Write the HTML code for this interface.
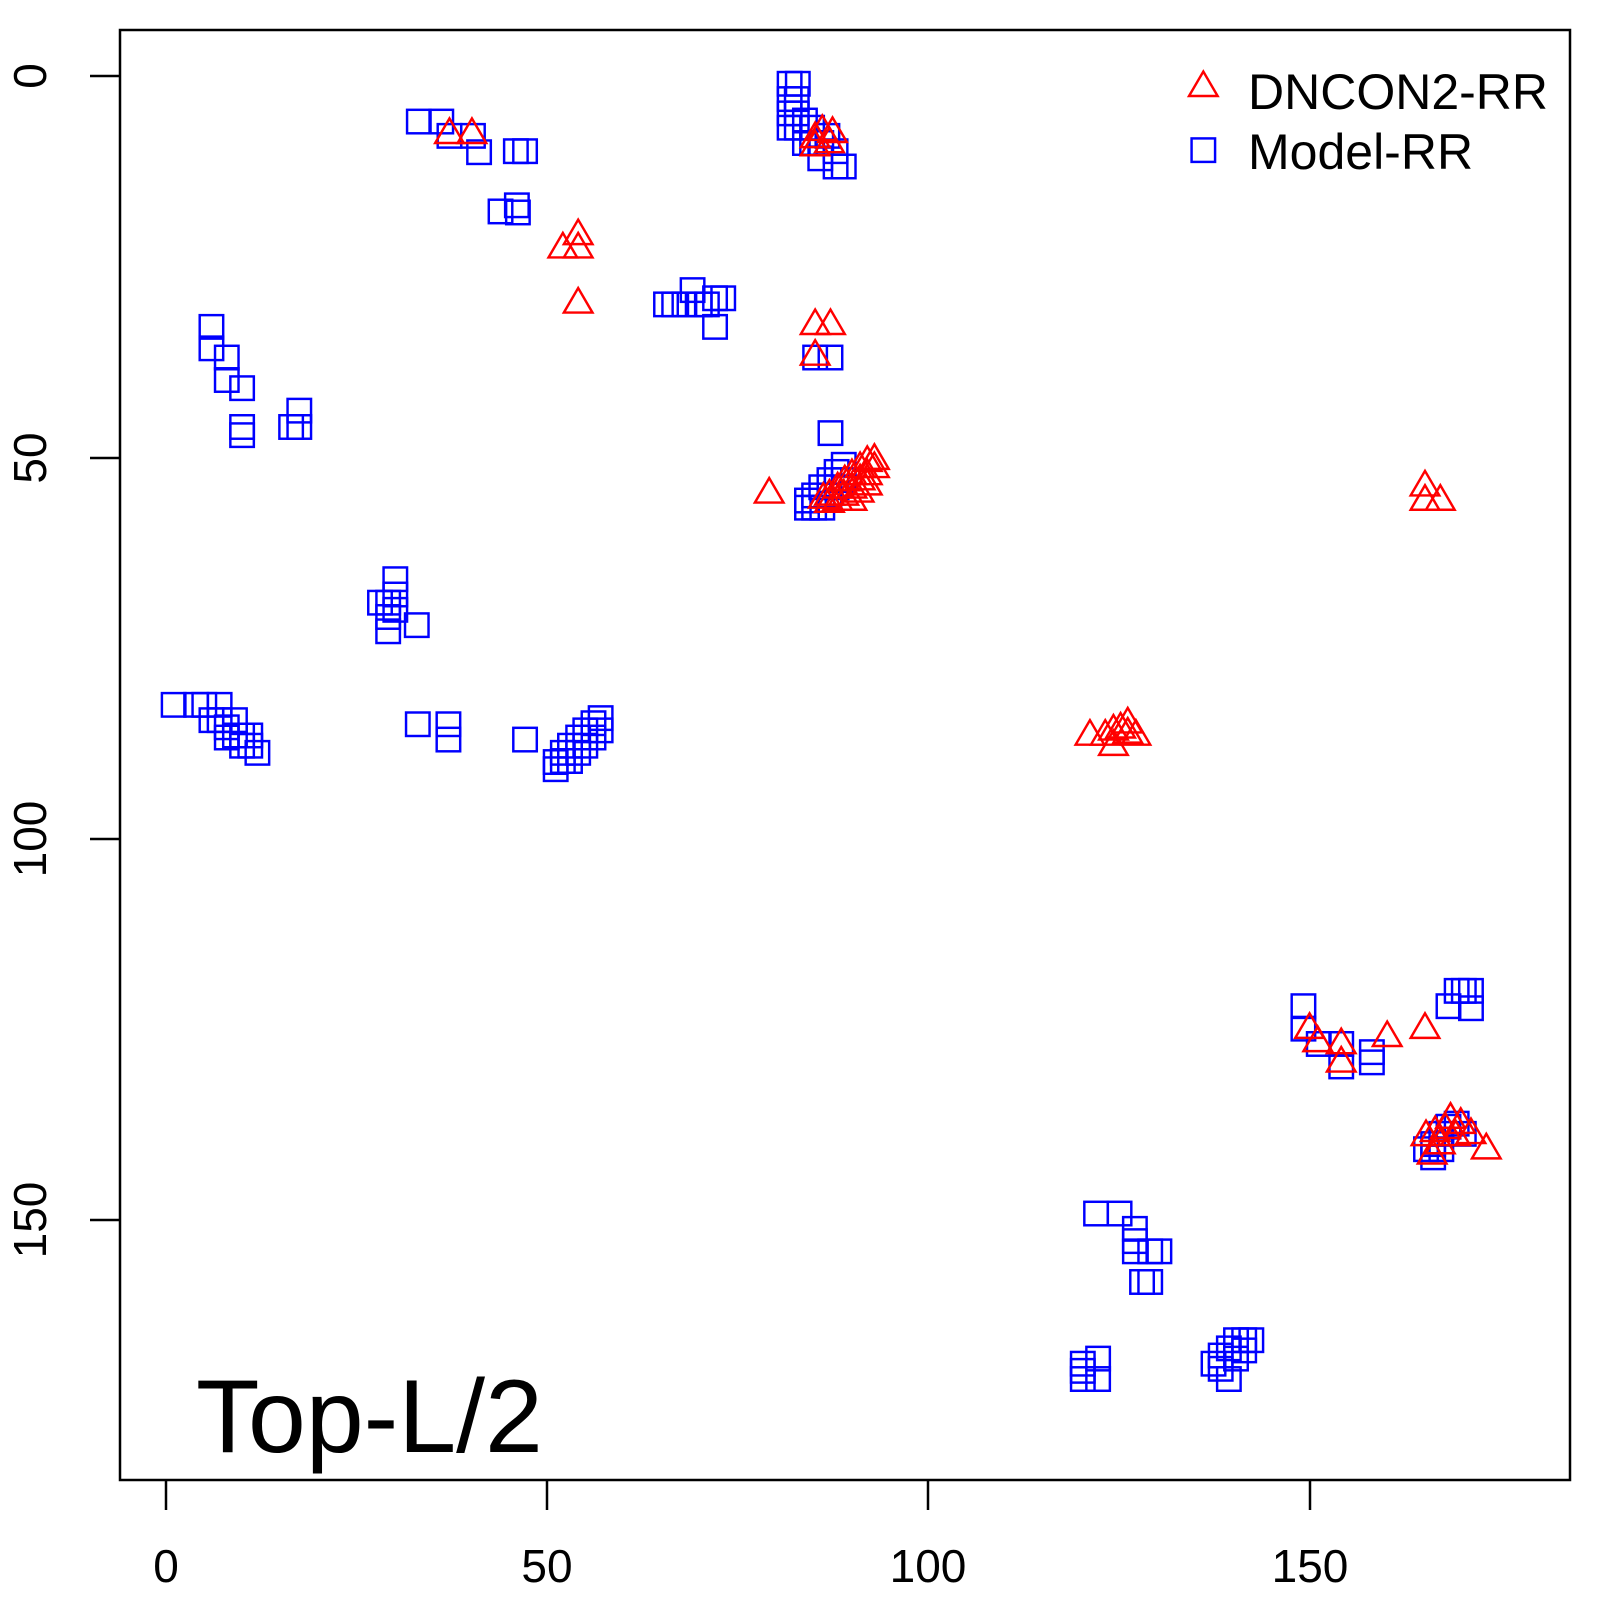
<!DOCTYPE html>
<html><head><meta charset="utf-8"><style>
html,body{margin:0;padding:0;background:#fff;}
svg{display:block;font-family:"Liberation Sans",Arial,sans-serif;}
</style></head><body>
<svg id="s" width="1600" height="1600" viewBox="0 0 1600 1600" xmlns="http://www.w3.org/2000/svg">
<rect x="120" y="30" width="1450" height="1450" fill="none" stroke="#000" stroke-width="2.5"/>
<g stroke="#000" stroke-width="2.5">
<line x1="166" y1="1480" x2="166" y2="1510"/>
<line x1="547" y1="1480" x2="547" y2="1510"/>
<line x1="928" y1="1480" x2="928" y2="1510"/>
<line x1="1310" y1="1480" x2="1310" y2="1510"/>
<line x1="90" y1="76" x2="120" y2="76"/>
<line x1="90" y1="458" x2="120" y2="458"/>
<line x1="90" y1="839" x2="120" y2="839"/>
<line x1="90" y1="1220" x2="120" y2="1220"/>
</g>
<g font-size="46" text-anchor="middle" fill="#000">
<text x="166" y="1582">0</text>
<text x="547" y="1582">50</text>
<text x="928" y="1582">100</text>
<text x="1310" y="1582">150</text>
<text transform="translate(46,76) rotate(-90)">0</text>
<text transform="translate(46,458) rotate(-90)">50</text>
<text transform="translate(46,839) rotate(-90)">100</text>
<text transform="translate(46,1220) rotate(-90)">150</text>
</g>
<text x="196" y="1452" font-size="104" fill="#000">Top-L/2</text>
<g id="pts" transform="scale(1.0215)" fill="none" stroke-width="2.4"></g>
<g font-size="50" fill="#000">
<text x="1248" y="109">DNCON2-RR</text>
<text x="1248" y="169">Model-RR</text>
</g>
</svg>
<script>
var sq=[[410,119],[432,119],[440,133],[463,133],[469,149],[505,148],[514,148],[490,207],[506,201],[507,208],
[781,82],[773,82],[773,97],[780,97],[780,111],[773,111],[773,125],[780,125],[788,118],[795,125],[795,140],[804,140],[810,133],[818,148],[826,163],[818,163],[803,155],[788,140],
[660,298],[678,284],[685,298],[700,292],[708,292],[700,320],[652,298],[670,298],[692,298],
[798,350],[813,350],[813,424],
[207,320],[207,341],[222,350],[222,372],[237,380],[237,418],[237,426],[293,402],[293,418],[285,418],
[387,567],[387,582],[372,590],[380,604],[380,618],[408,612],[387,597],[380,590],
[170,690],[192,690],[200,690],[207,705],[215,690],[222,712],[230,705],[237,720],[245,720],[252,737],[230,720],[215,705],[222,722],[237,730],[245,730],
[409,709],[439,709],[439,724],[514,724],[544,746],[551,737],[558,730],[566,722],[573,715],[581,708],[588,703],[544,753],[558,745],[573,730],[588,715],[551,745],[566,737],[581,722],
[790,497],[797,485],[804,477],[812,470],[819,462],[826,455],[790,490],[805,497],[812,485],[819,477],[797,497],[826,470],
[1276,985],[1276,1007],[1291,1022],[1313,1022],[1313,1044],[1343,1030],[1343,1040],[1418,985],[1426,970],[1433,970],[1440,970],[1440,987],
[1403,1120],[1403,1133],[1411,1110],[1418,1103],[1426,1100],[1396,1125],[1433,1110],[1411,1125],
[1073,1188],[1096,1188],[1111,1203],[1111,1225],[1126,1225],[1135,1225],[1118,1255],[1126,1255],[1111,1215],
[1060,1335],[1060,1350],[1075,1330],[1075,1350],[1060,1342],
[1188,1335],[1195,1327],[1203,1320],[1210,1312],[1218,1312],[1225,1312],[1203,1350],[1195,1340],[1210,1330],[1218,1322],
[1178,147]];
var tr=[[440,131],[462,131],[566,230],[551,243],[566,243],[566,297],[798,318],[813,318],[798,348],[753,483],[1395,476],[1395,490],[1410,490],
[1067,720],[1082,720],[1090,730],[1097,713],[1104,708],[1112,720],[1090,715],[1104,718],
[1282,1007],[1290,1020],[1313,1022],[1313,1040],[1358,1015],[1395,1007],
[1455,1125],[1440,1110],[1396,1112],[1420,1095],[1410,1120],[1430,1100],[1402,1130],[1415,1105],[1425,1112],[1405,1108],
[798,135],[805,128],[812,140],[798,143],[815,130],
[812,485],[820,478],[827,471],[834,465],[842,458],[849,452],[856,450],[812,492],[826,485],[834,478],[849,465],[856,458],[820,490],[842,470],[834,490],[806,488],[841,482],[849,475],
[1178,85]];
var h='';
sq.forEach(function(p){h+='<rect x="'+(p[0]-11.5)+'" y="'+(p[1]-11.5)+'" width="23" height="23" stroke="#0000ff"/>';});
tr.forEach(function(p){var x=p[0],y=p[1];h+='<polygon points="'+(x-14)+','+(y+9)+' '+(x+14)+','+(y+9)+' '+x+','+(y-15)+'" stroke="#ff0000"/>';});
document.getElementById('pts').innerHTML=h;
</script>
</body></html>
